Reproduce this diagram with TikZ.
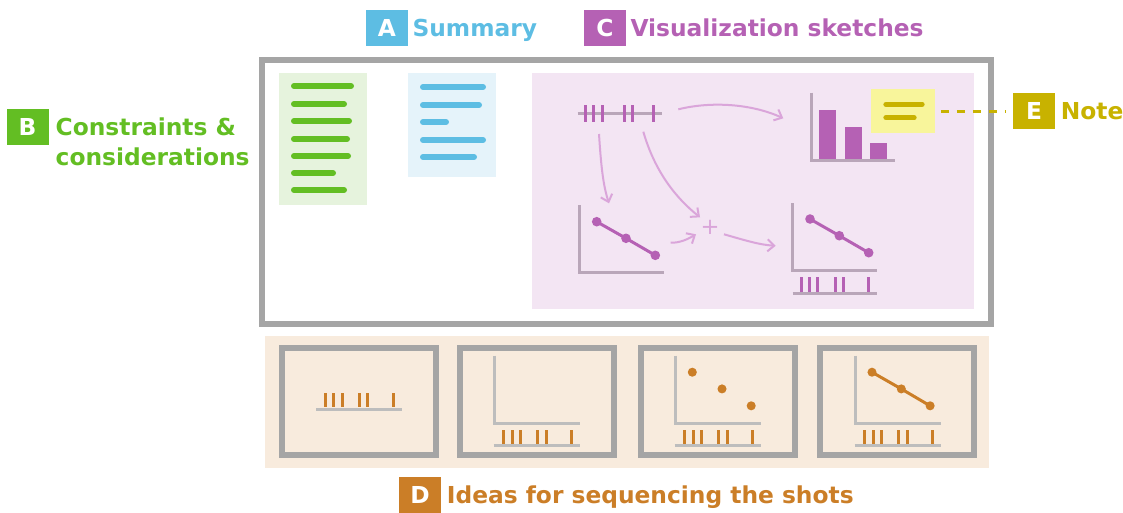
\documentclass[tikz,border=0pt]{standalone}
\usepackage{fontspec}
\setmainfont{DejaVu Sans}
\usepackage{tikz}
\usetikzlibrary{positioning}
\usetikzlibrary{arrows.meta}

\definecolor{ccgreen}{HTML}{63BE23}
\definecolor{ccgreenpale}{HTML}{E6F3DD}
\definecolor{sumblue}{HTML}{5DBDE3}
\definecolor{sumbluepale}{HTML}{E5F3FA}
\definecolor{vispurple}{HTML}{B561B4}
\definecolor{vispurplepale}{HTML}{F3E5F3}
\definecolor{visaxis}{HTML}{B9A6B9}
\definecolor{sketcharrow}{HTML}{DAA5DA}
\definecolor{noteyellow}{HTML}{F8F59B}
\definecolor{noteolive}{HTML}{C8B200}
\definecolor{shotorange}{HTML}{CB7E27}
\definecolor{shotpale}{HTML}{F8EBDD}
\definecolor{shotaxis}{HTML}{BDBDBD}
\definecolor{framegray}{HTML}{A5A5A5}

\begin{document}
\begin{tikzpicture}[x=0.75pt,y=-0.75pt,
    tagbox/.style={fill=#1, text=white, font=\bfseries\fontsize{17.5}{18}\selectfont,
        minimum width=31.5pt, minimum height=27pt, inner sep=0pt},
    tagtext/.style={text=#1, font=\bfseries\fontsize{17.5}{20}\selectfont, inner sep=0pt},
    textbar/.style={line width=4.5pt, line cap=round},
    sketchline/.style={draw=sketcharrow, line width=1.5pt,
        -{Straight Barb[length=5pt,width=9pt]}},
    frameline/.style={draw=framegray, line width=4.5pt}]

    \useasboundingbox (0,0) rectangle (1123,512);

    % headings
    \node[tagbox=sumblue] (tagA) at (387,28) {A};
    \node[tagtext=sumblue, base right=3pt of tagA] (lblA) {Summary};
    \node[tagbox=vispurple] (tagC) at (605,28) {C};
    \node[tagtext=vispurple, base right=3pt of tagC] (lblC) {Visualization sketches};
    \node[tagbox=ccgreen] (tagB) at (27.5,127) {B};
    \node[tagtext=ccgreen, base right=5pt of tagB] (lblB) {Constraints \&};
    \node[tagtext=ccgreen, anchor=base west] (lblBB) at ([yshift=-22.5pt]lblB.base west) {considerations};
    \node[tagbox=noteolive] (tagE) at (1034,111) {E};
    \node[tagtext=noteolive, base right=4pt of tagE] (lblE) {Note};
    \node[tagbox=shotorange] (tagD) at (420,495) {D};
    \node[tagtext=shotorange, base right=4pt of tagD] (lblD) {Ideas for sequencing the shots};

    % page frame and panels
    \fill[ccgreenpale] (279,73) rectangle (367,205);
    \fill[sumbluepale] (408,73) rectangle (496,177);
    \fill[vispurplepale] (532,73) rectangle (974,309);
    \draw[frameline] (262,60) rectangle (991,324);

    \foreach \y/\xe in {86/351,104/344,121/349,139/347,156/348,173/333,190/344}
        \draw[textbar, ccgreen] (294,\y) -- (\xe,\y);
    \foreach \y/\xe in {87/483,105/479,122/446,140/483,157/474}
        \draw[textbar, sumblue] (423,\y) -- (\xe,\y);

    % rug on top
    \draw[visaxis, line width=2.25pt] (577.7,113.3) -- (661.7,113.3);
    \foreach \x in {585.7,593.3,602.3,624,632.3,653.3}
        \draw[vispurple, line width=2.25pt] (\x,105) -- (\x,122);

    % bar chart
    \fill[vispurple] (819.3,110) rectangle (836,160);
    \fill[vispurple] (845,126.7) rectangle (861.7,160);
    \fill[vispurple] (870,143.3) rectangle (886.7,160);
    \draw[visaxis, line width=2.25pt] (811,92.7) -- (811,160) -- (895,160);

    % note
    \node[fill=noteyellow, inner sep=0pt, minimum width=48pt, minimum height=32.5pt] (note) at (903.3,111) {};
    \draw[textbar, noteolive, line width=4pt] (886,104.3) -- (922,104.3);
    \draw[textbar, noteolive, line width=4pt] (886,117.7) -- (914,117.7);
    \draw[noteolive, line width=2.25pt, dash pattern=on 6pt off 6pt]
        ([xshift=4pt]note.east) -- ([xshift=-5pt]tagE.west);

    % line chart, left
    \draw[visaxis, line width=2.25pt] (579.3,205) -- (579.3,272.3) -- (664,272.3);
    \draw[vispurple, line width=2.25pt] (596.7,221.7) -- (626,238.3) -- (655.3,255.3);
    \foreach \p in {(596.7,221.7),(626,238.3),(655.3,255.3)}
        \fill[vispurple] \p circle (3.6pt);

    % line chart with rug, right
    \draw[visaxis, line width=2.25pt] (792.7,203.3) -- (792.7,270) -- (876.7,270);
    \draw[vispurple, line width=2.25pt] (810,219) -- (839.3,235.7) -- (868.7,252.7);
    \foreach \p in {(810,219),(839.3,235.7),(868.7,252.7)}
        \fill[vispurple] \p circle (3.6pt);
    \draw[visaxis, line width=2.25pt] (792.7,293.3) -- (876.7,293.3);
    \foreach \x in {801,809.3,817.7,835,843.3,868.7}
        \draw[vispurple, line width=2.25pt] (\x,277.3) -- (\x,291.7);

    % sketch arrows
    \node[text=sketcharrow, font=\fontsize{17}{17}\selectfont, inner sep=0pt] (plus) at (710,227.3) {+};
    \coordinate (rugEnd) at (678.3,109.3);
    \coordinate (barIn) at (783.3,118.3);
    \coordinate (rugLeft) at (599,134);
    \coordinate (lineIn) at (609,203.3);
    \coordinate (rugRight) at (643.3,131.7);
    \coordinate (lineOut) at (670.7,242.7);
    \coordinate (comboIn) at (775.7,245.7);

    \draw[sketchline] (rugEnd) .. controls (712,101) and (752,104) .. (barIn);
    \draw[sketchline] (rugLeft) .. controls (601,165) and (603,185) .. (lineIn);
    \draw[sketchline] (rugRight) .. controls (655,172) and (676,198) .. ([shift={(-10,-10)}]plus.center);
    \draw[sketchline] (lineOut) .. controls (680,243) and (688,239) .. ([shift={(-14,7)}]plus.center);
    \draw[sketchline] ([shift={(14,7)}]plus.center) .. controls (744,240) and (760,245) .. (comboIn);

    % shot ideas
    \fill[shotpale] (265,336) rectangle (989,468);
    \foreach \fx in {279,456.5,637.5,816.5}
        \draw[frameline] (\fx+3,348) rectangle (\fx+157,455);

    % first shot: rug only
    \draw[shotaxis, line width=2.25pt] (316,409) -- (401.5,409);
    \foreach \dx in {9,17.5,26,43,51.5,77}
        \draw[shotorange, line width=2.25pt] (316+\dx,393) -- (316+\dx,407);

    % other shots: empty axes over the rug
    \foreach \ax in {494.5,675.5,855.5} {
        \draw[shotaxis, line width=2.25pt] (\ax,355.6) -- (\ax,423) -- (\ax+85,423);
        \draw[shotaxis, line width=2.25pt] (\ax-1,445.7) -- (\ax+85,445.7);
        \foreach \dx in {9,17.5,26,43,51.5,77}
            \draw[shotorange, line width=2.25pt] (\ax+\dx,430.4) -- (\ax+\dx,444);
    }
    \foreach \p in {(692.3,372.2),(722,388.9),(751.2,405.8)}
        \fill[shotorange] \p circle (3.4pt);
    \draw[shotorange, line width=2.25pt] (872,372.2) -- (901.3,388.9) -- (930.1,405.8);
    \foreach \p in {(872,372.2),(901.3,388.9),(930.1,405.8)}
        \fill[shotorange] \p circle (3.4pt);
\end{tikzpicture}
\end{document}
